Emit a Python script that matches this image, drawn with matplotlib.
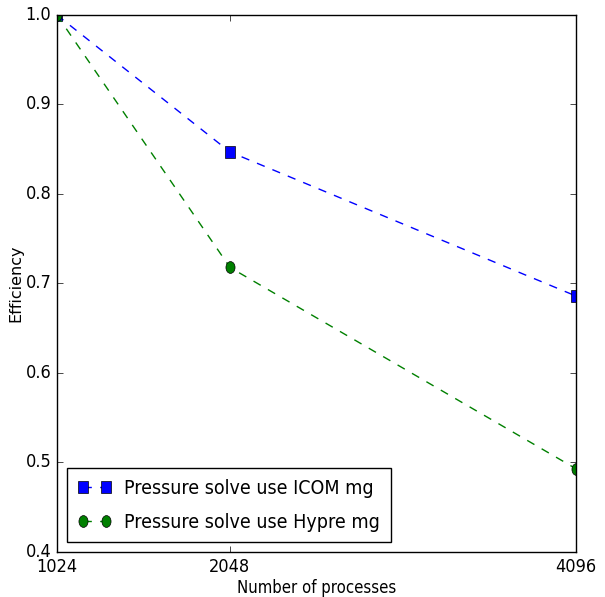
import matplotlib
matplotlib.use("Agg")
import matplotlib.pyplot as plt
from matplotlib.markers import MarkerStyle
from matplotlib.transforms import Affine2D

plt.style.use("classic")

procs = [1024, 2048, 4096]
icom_eff = [1.0, 0.847, 0.686]
hypre_eff = [1.0, 0.718, 0.493]
xticks = [1024, 2048, 4096]
yticks = [0.4, 0.5, 0.6, 0.7, 0.8, 0.9, 1.0]

# the original looks squeezed sideways, so condensed text and narrow markers
cond = dict(family='DejaVu Sans', stretch='condensed')
sq = MarkerStyle('s', transform=Affine2D().scale(0.77, 1.0))
circ = MarkerStyle('o', transform=Affine2D().scale(0.77, 1.0))

fig = plt.figure(figsize=(6.05, 5.97), dpi=100)
ax = fig.add_axes([0.094, 0.0754, 0.858, 0.8995])

ax.plot(procs, icom_eff, color='b', ls='--', marker=sq, markersize=8.5,
        label='Pressure solve use ICOM mg')
ax.plot(procs, hypre_eff, color='g', ls='--', marker=circ, markersize=8.5,
        label='Pressure solve use Hypre mg')

ax.set_xlim(1024, 4096)
ax.set_ylim(0.4, 1.0)
ax.set_xticks(xticks)
ax.set_xticklabels([str(v) for v in xticks], fontsize=13, **cond)
ax.set_yticks(yticks)
ax.set_yticklabels(['%.1f' % v for v in yticks], fontsize=13, **cond)

ax.set_xlabel('Number of processes', fontsize=12, **cond)
ax.set_ylabel('Efficiency', fontsize=11.5)
ax.xaxis.set_label_coords(0.5, -0.05)
ax.yaxis.set_label_coords(-0.064, 0.5)

leg = ax.legend(loc='lower left', prop=dict(size=14, **cond),
                labelspacing=0.75, handlelength=1.8, handletextpad=0.6,
                borderpad=0.55)

fig.savefig('out.png', dpi=100)
